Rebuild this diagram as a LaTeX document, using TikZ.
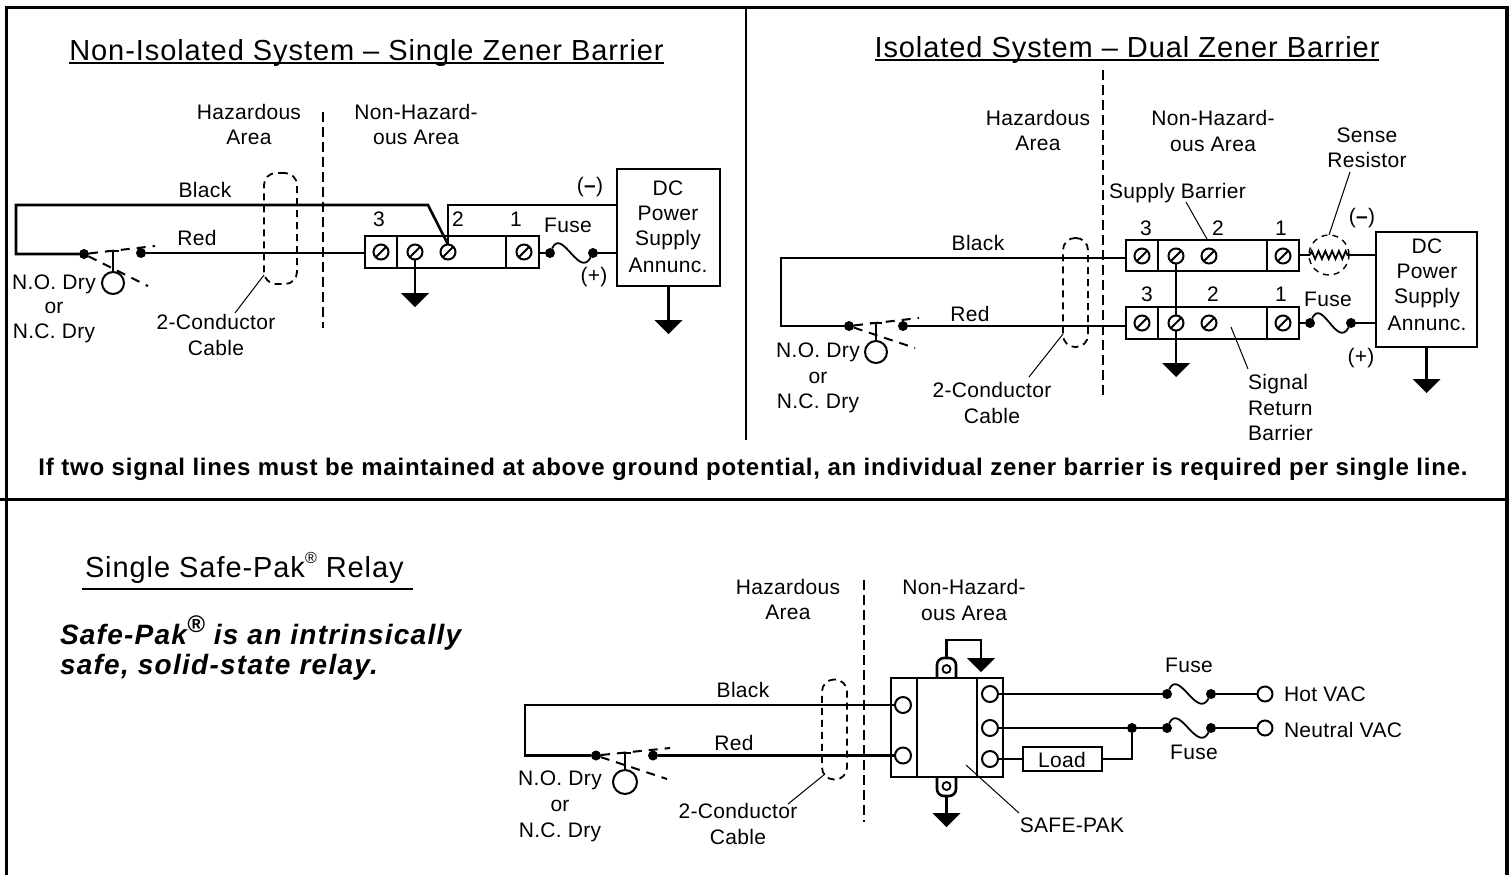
\documentclass[tikz,border=0pt]{standalone}
\usepackage{fontspec}
\setmainfont{Liberation Sans}[LetterSpace=1.5]
\newfontfamily\titlef{Liberation Sans}[LetterSpace=3.2]
\newfontfamily\boldf{Liberation Sans}[LetterSpace=3.3,BoldFont={Liberation Sans Bold},BoldItalicFont={Liberation Sans Bold Italic}]
\newfontfamily\itf{Liberation Sans}[LetterSpace=4.5,BoldFont={Liberation Sans Bold},BoldItalicFont={Liberation Sans Bold Italic}]
\usetikzlibrary{decorations.pathmorphing}
\tikzset{
  frame/.style={line width=1.75pt},
  wire/.style={line width=1.3pt,line join=miter},
  thinwire/.style={line width=0.9pt},
  leader/.style={line width=0.5pt},
  zone/.style={line width=1.1pt,dash pattern=on 5pt off 2.5pt},
  cable/.style={draw,line width=0.9pt,dash pattern=on 3.5pt off 2.5pt,rounded corners=6pt,inner sep=0,outer sep=0},
  swdash/.style={line width=1pt,dash pattern=on 4.5pt off 3.5pt},
  lab/.style={anchor=base,inner sep=0,outer sep=0,font=\fontsize{10.5}{12}\selectfont},
  labl/.style={lab,anchor=base west},
  titlelab/.style={anchor=base,inner sep=0,outer sep=0,font=\titlef\fontsize{14.5}{17}\selectfont},
  boxnode/.style={draw,line width=1.3pt,inner sep=0,outer sep=0},
  dot/.style={circle,fill=black,inner sep=0,outer sep=0,minimum size=5pt},
  screwnode/.style={circle,draw,fill=white,line width=1pt,inner sep=0,outer sep=0,minimum size=7.5pt},
  term/.style={circle,draw,fill=white,line width=1pt,inner sep=0,outer sep=0,minimum size=8pt},
}
\newcommand{\bx}[6][]{%
  \pgfmathsetmacro{\bxw}{(#5-#3)*0.5}\pgfmathsetmacro{\bxh}{(#6-#4)*0.5}%
  \pgfmathsetmacro{\bxx}{(#3+#5)/2}\pgfmathsetmacro{\bxy}{(#4+#6)/2}%
  \node[boxnode,minimum width=\bxw pt,minimum height=\bxh pt,#1] (#2) at (\bxx,\bxy) {};}
\newcommand{\screw}[3]{\node[screwnode] (#1) at (#2,#3) {};\draw[line width=1pt] (#1.225) -- (#1.45);}
\newcommand{\gnd}[3]{\coordinate (#1) at (#2,#3);\fill (#1) ++(-14,0) -- ++(28,0) -- ++(-14,14) -- cycle;}
\newcommand{\fuse}[2]{\draw[thinwire] (#1) .. controls +(12,-26) and +(-14,26) .. (#2);}
% prefix, a x y, b x y
\newcommand{\switch}[9]{%
  \node[dot] (#1a) at (#2,#3) {};
  \node[dot] (#1b) at (#4,#5) {};
  \coordinate (#1t) at (#6,#7);\coordinate (#1l) at (#8,#9);
  \draw[swdash] (#1a) -- (#1t);
  \draw[swdash] (#1a) -- (#1l);}
\newcommand{\actuator}[5]{%
  \node[circle,draw,line width=1pt,inner sep=0,outer sep=0,minimum size=#5pt] (#1c) at (#2,#3) {};
  \coordinate (#1s) at (#2,#4);
  \draw[wire] (#1s) -- (#1c.north);
  \draw[line width=1pt] ([xshift=-3pt]#1s) -- ([xshift=3pt]#1s);}
\begin{document}
\begin{tikzpicture}[x=0.5pt,y=-0.5pt]
\useasboundingbox (0,0) rectangle (1510,875);
% frame
\coordinate (fTL) at (6.5,7.5);\coordinate (fTR) at (1507,7.5);
\coordinate (fBL) at (6.5,875);\coordinate (fBR) at (1507,875);
\coordinate (fM1) at (0,499);\coordinate (fM2) at (1507,499);
\coordinate (fV1) at (746,7.5);\coordinate (fV2) at (746,440);
\draw[frame] (fBL) -- (fTL) -- (fTR) -- (fBR);
\draw[line width=1.5pt] (fM1) -- (fM2);
\draw[line width=1.25pt] (fV1) -- (fV2);

% ===== PANEL 1 =====
\node[titlelab] (t1) at (366.5,60) {Non-Isolated System – Single Zener Barrier};
\draw[line width=0.9pt] ([yshift=-1.3pt]t1.base west) -- ([yshift=-1.3pt]t1.base east);
\node[lab] (h1a) at (249,119) {Hazardous};
\node[lab] (h1b) at (249,144) {Area};
\node[lab] (n1a) at (416,119) {Non-Hazard-};
\node[lab] (n1b) at (416,144) {ous Area};
\coordinate (z1a) at (323,112);\coordinate (z1b) at (323,328);
\draw[zone] (z1a) -- (z1b);
\node[lab] (bk1) at (205,197) {Black};
\node[lab] (rd1) at (197,245) {Red};
\node[lab] (no1) at (54,289) {N.O. Dry};
\node[lab] (or1) at (54,313) {or};
\node[lab] (nc1) at (54,338) {N.C. Dry};
\node[lab] (cd1a) at (216,329) {2-Conductor};
\node[lab] (cd1b) at (216,355) {Cable};
\bx[fill=white]{b1}{365}{236}{539}{268}
\coordinate (d1a) at (397,236);\coordinate (d1b) at (397,268);
\coordinate (d1c) at (506,236);\coordinate (d1d) at (506,268);
\draw[wire] (d1a) -- (d1b);\draw[wire] (d1c) -- (d1d);
\bx{ps1}{617}{169}{720}{286}
\node[lab] (ps1t) at (668,195) {DC};
\node[lab] (ps1u) at (668,220) {Power};
\node[lab] (ps1v) at (668,245) {Supply};
\node[lab] (ps1w) at (668,272) {Annunc.};
\screw{s1a}{381}{252}\screw{s1b}{415}{252}\screw{s1c}{448}{252}\screw{s1d}{524}{252}
\node[lab] (n13) at (379,226) {3};
\node[lab] (n12) at (458,226) {2};
\node[lab] (n11) at (516,226) {1};
\node[lab] (fu1) at (568,232) {Fuse};
\node[lab] (mi1) at (590,192) {(\textbf{–})};
\node[lab] (pl1) at (594,282) {(+)};
\switch{sw1}{84}{254}{141}{253}{155}{246}{148}{286}
\actuator{sw1}{113}{283}{251}{11}
\coordinate (lp1a) at (16,205);\coordinate (lp1b) at (16,254);\coordinate (lp1c) at (428,205);
\coordinate (lp1d) at (448,205);\coordinate (lp1e) at (617,205);
\draw[wire] (sw1a) -- (lp1b) -- (lp1a) -- (lp1c) -- (s1c.north);
\draw[wire] (s1c.north) -- (lp1d) -- (lp1e);
\draw[wire] (sw1b) -- (b1.west |- sw1b);
\gnd{g1a}{415}{293}\draw[wire] (s1b.south) -- (g1a);
\gnd{g1b}{668.5}{320}\draw[wire] (ps1.south) -- (g1b);
\node[dot] (f1a) at (550,253) {};\node[dot] (f1b) at (593,253) {};
\fuse{f1a}{f1b}
\draw[wire] (b1.east |- f1a) -- (f1a);
\draw[wire] (f1b) -- (ps1.west |- f1b);
\node[cable,minimum width=16.5pt,minimum height=55.5pt] (c1) at (280.5,228.5) {};
\coordinate (c1l) at (264,275);\coordinate (c1m) at (235,313);
\draw[leader] (c1l) -- (c1m);

% ===== PANEL 2 =====
\node[titlelab] (t2) at (1127,57) {Isolated System – Dual Zener Barrier};
\draw[line width=0.9pt] ([yshift=-1.3pt]t2.base west) -- ([yshift=-1.3pt]t2.base east);
\node[lab] (h2a) at (1038,125) {Hazardous};
\node[lab] (h2b) at (1038,150) {Area};
\node[lab] (n2a) at (1213,125) {Non-Hazard-};
\node[lab] (n2b) at (1213,151) {ous Area};
\coordinate (z2a) at (1103,70);\coordinate (z2b) at (1103,395);
\draw[zone] (z2a) -- (z2b);
\node[lab] (se2a) at (1367,142) {Sense};
\node[lab] (se2b) at (1367,167) {Resistor};
\node[labl] (sb2) at (1109,198) {Supply Barrier};
\node[lab] (bk2) at (978,250) {Black};
\node[lab] (rd2) at (970,321) {Red};
\node[lab] (no2) at (818,357) {N.O. Dry};
\node[lab] (or2) at (818,383) {or};
\node[lab] (nc2) at (818,408) {N.C. Dry};
\node[lab] (cd2a) at (992,397) {2-Conductor};
\node[lab] (cd2b) at (992,423) {Cable};
\bx[fill=white]{b2u}{1126}{240}{1299}{271}
\bx[fill=white]{b2l}{1126}{307}{1299}{339}
\coordinate (d2a) at (1158,240);\coordinate (d2b) at (1158,271);
\coordinate (d2c) at (1267,240);\coordinate (d2d) at (1267,271);
\coordinate (d2e) at (1158,307);\coordinate (d2f) at (1158,339);
\coordinate (d2g) at (1267,307);\coordinate (d2h) at (1267,339);
\draw[wire] (d2a) -- (d2b);\draw[wire] (d2c) -- (d2d);
\draw[wire] (d2e) -- (d2f);\draw[wire] (d2g) -- (d2h);
\bx{ps2}{1376}{232}{1477}{347}
\node[lab] (ps2t) at (1427,253) {DC};
\node[lab] (ps2u) at (1427,278) {Power};
\node[lab] (ps2v) at (1427,303) {Supply};
\node[lab] (ps2w) at (1427,330) {Annunc.};
\gnd{g2a}{1176}{363}
\coordinate (v2top) at (1176,256);
\draw[wire] (v2top) -- (g2a);
\screw{s2a}{1142}{256}\screw{s2b}{1176}{256}\screw{s2c}{1209}{256}\screw{s2d}{1283}{256}
\screw{s2e}{1142}{323}\screw{s2f}{1176}{323}\screw{s2g}{1209}{323}\screw{s2h}{1283}{323}
\node[lab] (n23) at (1146,235) {3};
\node[lab] (n22) at (1218,235) {2};
\node[lab] (n21) at (1281,235) {1};
\node[lab] (n26) at (1147,301) {3};
\node[lab] (n25) at (1213,301) {2};
\node[lab] (n24) at (1281,301) {1};
\node[lab] (fu2) at (1328,306) {Fuse};
\node[lab] (mi2) at (1362,223) {(\textbf{–})};
\node[lab] (pl2) at (1361,363) {(+)};
\node[labl] (si2a) at (1248,389) {Signal};
\node[labl] (si2b) at (1248,415) {Return};
\node[labl] (si2c) at (1248,440) {Barrier};
\switch{sw2}{849}{326}{903}{326}{919}{318}{915}{348}
\actuator{sw2}{876}{352}{323}{11}
\coordinate (lp2a) at (781,258);\coordinate (lp2b) at (781,326);
\draw[wire] (sw2a) -- (lp2b) -- (lp2a) -- (lp2a -| b2u.west);
\draw[wire] (sw2b) -- (sw2b -| b2l.west);
\node[dot] (f2a) at (1310,323) {};\node[dot] (f2b) at (1351,323) {};
\fuse{f2a}{f2b}
\draw[wire] (b2l.east |- f2a) -- (f2a);
\draw[wire] (f2b) -- (ps2.west |- f2b);
\gnd{g2b}{1426.5}{379}\draw[wire] (ps2.south) -- (g2b);
\coordinate (r2a) at (1310,255);\coordinate (r2b) at (1348,255);
\draw[wire] (b2u.east |- r2a) -- (r2a);
\draw[wire] (r2b) -- (ps2.west |- r2b);
\draw[thinwire,decorate,decoration={zigzag,amplitude=2pt,segment length=3.4pt}] (r2a) -- (r2b);
\node[circle,draw,line width=0.7pt,dash pattern=on 3pt off 2.5pt,inner sep=0,outer sep=0,minimum size=20pt] (r2c) at (1329,255) {};
\coordinate (r2l) at (1350,172);
\draw[leader] (r2c.north) -- (r2l);
\coordinate (sb2a) at (1186,202);\coordinate (sb2b) at (1207,239);
\draw[leader] (sb2a) -- (sb2b);
\coordinate (si2d) at (1231,327);\coordinate (si2e) at (1248,369);
\draw[leader] (si2d) -- (si2e);
\node[cable,minimum width=12.5pt,minimum height=54.5pt] (c2) at (1075.5,292.5) {};
\coordinate (c2l) at (1063,334);\coordinate (c2m) at (1029,377);
\draw[leader] (c2l) -- (c2m);

\node[anchor=base,inner sep=0,outer sep=0,font=\boldf\bfseries\fontsize{12}{14}\selectfont] (note) at (753,475) {If two signal lines must be maintained at above ground potential, an individual zener barrier is required per single line.};

% ===== PANEL 3 =====
\node[anchor=base west,inner sep=0,outer sep=0,font=\titlef\fontsize{14.5}{17}\selectfont] (t3) at (85,577) {Single Safe-Pak{\raisebox{0.45em}{\fontsize{8}{9}\selectfont ®}} Relay};
\coordinate (t3a) at (82,589);\coordinate (t3b) at (413,589);
\draw[line width=0.9pt] (t3a) -- (t3b);
\node[anchor=base west,inner sep=0,outer sep=0,font=\itf\bfseries\itshape\fontsize{14}{16}\selectfont] (it1) at (60,644) {Safe-Pak{\raisebox{0.42em}{\fontsize{12}{14}\selectfont ®}} is an intrinsically};
\node[anchor=base west,inner sep=0,outer sep=0,font=\itf\bfseries\itshape\fontsize{14}{16}\selectfont] (it2) at (60,674) {safe, solid-state relay.};
\node[lab] (h3a) at (788,594) {Hazardous};
\node[lab] (h3b) at (788,619) {Area};
\node[lab] (n3a) at (964,594) {Non-Hazard-};
\node[lab] (n3b) at (964,620) {ous Area};
\coordinate (z3a) at (864,580);\coordinate (z3b) at (864,822);
\draw[zone] (z3a) -- (z3b);
\node[lab] (bk3) at (743,697) {Black};
\node[lab] (rd3) at (734,750) {Red};
\node[lab] (no3) at (560,785) {N.O. Dry};
\node[lab] (or3) at (560,811) {or};
\node[lab] (nc3) at (560,837) {N.C. Dry};
\node[lab] (cd3a) at (738,818) {2-Conductor};
\node[lab] (cd3b) at (738,844) {Cable};
\switch{sw3}{596}{755.5}{653}{755.5}{670}{748}{667}{779}
\actuator{sw3}{625}{782}{753}{12}
% safe-pak
\coordinate (tt1) at (937,678);\coordinate (tt2) at (937,658);\coordinate (tt3) at (956,658);\coordinate (tt4) at (956,678);
\coordinate (tb1) at (937,777);\coordinate (tb2) at (937,796);\coordinate (tb3) at (956,796);\coordinate (tb4) at (956,777);
\draw[wire,rounded corners=3.5pt] (tt1) -- (tt2) -- (tt3) -- (tt4);
\draw[wire,rounded corners=3.5pt] (tb1) -- (tb2) -- (tb3) -- (tb4);
\node[circle,draw,line width=0.9pt,inner sep=0,outer sep=0,minimum size=4pt] (ht) at (946.5,669) {};
\node[circle,draw,line width=0.9pt,inner sep=0,outer sep=0,minimum size=4pt] (hb) at (946.5,786) {};
\bx{sp}{891}{678}{1003}{777}
\coordinate (d3a) at (917,678);\coordinate (d3b) at (917,777);
\coordinate (d3c) at (977,678);\coordinate (d3d) at (977,777);
\draw[wire] (d3a) -- (d3b);\draw[wire] (d3c) -- (d3d);
\coordinate (gt0) at (946.5,658);\coordinate (gt1) at (946.5,640);\coordinate (gt2) at (981,640);
\gnd{g3a}{981}{658}\draw[wire] (gt0) -- (gt1) -- (gt2) -- (g3a);
\coordinate (gb0) at (946.5,796);
\gnd{g3b}{946.5}{813}\draw[wire] (gb0) -- (g3b);
\node[term] (tl1) at (903,705) {};\node[term] (tl2) at (903,755.5) {};
\node[term] (tr1) at (990,694) {};\node[term] (tr2) at (990,728) {};\node[term] (tr3) at (990,759) {};
\coordinate (lp3a) at (525,705);\coordinate (lp3b) at (525,755.5);
\draw[wire] (sw3a) -- (lp3b) -- (lp3a) -- (tl1.west);
\draw[wire] (sw3b) -- (tl2.west);
\node[dot] (f3a) at (1167,694) {};\node[dot] (f3b) at (1211,694) {};
\node[dot] (f3c) at (1167,728) {};\node[dot] (f3d) at (1211,728) {};
\fuse{f3a}{f3b}\fuse{f3c}{f3d}
\node[term,minimum size=7.5pt] (hot) at (1265,694) {};
\node[term,minimum size=7.5pt] (neu) at (1265,728) {};
\draw[wire] (tr1.east) -- (f3a);\draw[wire] (f3b) -- (hot);
\node[dot] (j3) at (1132,728) {};
\draw[wire] (tr2.east) -- (f3c);\draw[wire] (f3d) -- (neu);
\bx{ld}{1023}{747}{1102}{771}
\node[lab] (ldt) at (1062,767) {Load};
\coordinate (ld1) at (1132,759);
\draw[wire] (tr3.east) -- (ld.west);
\draw[wire] (ld.east) -- (ld1) -- (j3);
\node[labl] (hv) at (1284,701) {Hot VAC};
\node[labl] (nv) at (1284,737) {Neutral VAC};
\node[lab] (fu3a) at (1189,672) {Fuse};
\node[lab] (fu3b) at (1194,759) {Fuse};
\node[lab] (spk) at (1072,832) {SAFE-PAK};
\coordinate (sp1) at (966,765);\coordinate (sp2) at (1019,813);
\draw[leader] (sp1) -- (sp2);
\node[cable,minimum width=12.5pt,minimum height=50pt] (c3) at (834.5,729.5) {};
\coordinate (c3l) at (825,774);\coordinate (c3m) at (788,804);
\draw[leader] (c3l) -- (c3m);
\end{tikzpicture}
\end{document}
